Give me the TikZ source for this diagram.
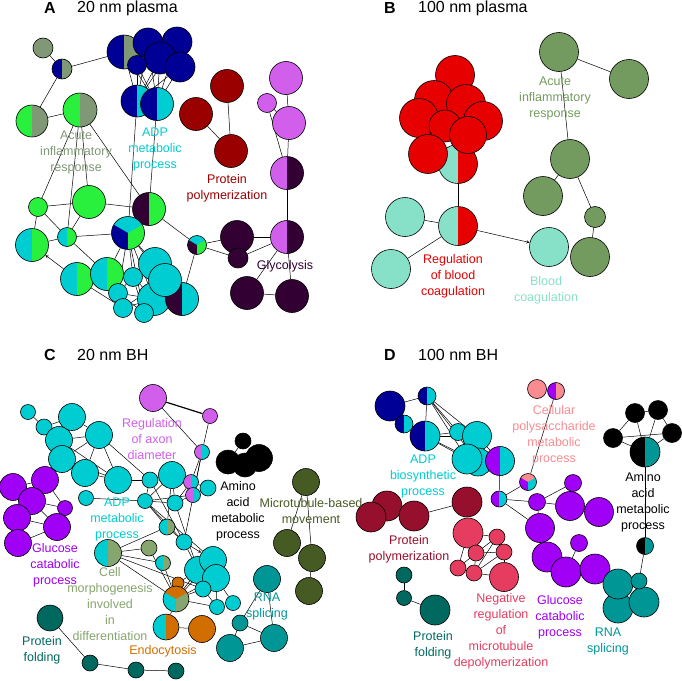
\documentclass[tikz,border=0pt]{standalone}
\usepackage{fontspec}
\setmainfont{Liberation Sans}
\usepackage{xcolor}
\usepackage{tikz}

\definecolor{navyc}{RGB}{0,0,150}
\definecolor{agrey}{RGB}{128,152,118}
\definecolor{lgreen}{RGB}{40,240,60}
\definecolor{cyanc}{RGB}{0,205,210}
\definecolor{dred}{RGB}{155,0,0}
\definecolor{violetc}{RGB}{210,95,235}
\definecolor{dpurple}{RGB}{50,0,50}
\definecolor{bred}{RGB}{230,0,0}
\definecolor{bcyan}{RGB}{135,225,200}
\definecolor{bgreen}{RGB}{115,155,95}
\definecolor{cpurple}{RGB}{160,0,245}
\definecolor{colive}{RGB}{70,90,35}
\definecolor{cteal}{RGB}{0,150,150}
\definecolor{cdteal}{RGB}{0,105,95}
\definecolor{cgrey}{RGB}{135,165,110}
\definecolor{corange}{RGB}{210,110,0}
\definecolor{dpink}{RGB}{250,140,145}
\definecolor{dwine}{RGB}{150,15,45}
\definecolor{dcrimson}{RGB}{230,60,95}

\pgfdeclarelayer{edges}
\pgfsetlayers{edges,main}

\tikzset{
  go/.style={circle, draw=black, line width=0.6pt, inner sep=0pt, minimum size=#1},
  half/.style 2 args={fill=#1, path picture={\fill[#2] (path picture bounding box.south) rectangle (path picture bounding box.north east);}},
  tri/.style n args={3}{fill=#1, path picture={
      \fill[#2] (path picture bounding box.center) -- +(150:45pt) -- +(270:45pt) -- cycle;
      \fill[#3] (path picture bounding box.center) -- +(270:45pt) -- +(30:45pt) -- cycle;}},
  lab/.style={font=\fontsize{12.5}{16}\selectfont, align=center, inner sep=0pt},
  ttl/.style={font=\fontsize{16}{19}\selectfont, anchor=west, inner sep=0pt},
  letter/.style={font=\bfseries\fontsize{16}{19}\selectfont, inner sep=0pt},
  link/.style={line width=0.5pt, >=stealth}
}

\begin{document}
\begin{tikzpicture}[x=1pt, y=-1pt]
    \useasboundingbox (0,0) rectangle (682,680);

    % titles
    \node[letter] (tA) at (50,8) {A};
    \node[ttl] (nA) at (77,8) {20 nm plasma};
    \node[letter] (tB) at (390,8) {B};
    \node[ttl] (nB) at (418,8) {100 nm plasma};
    \node[letter] (tC) at (50,355) {C};
    \node[ttl] (nC) at (77,355) {20 nm BH};
    \node[letter] (tD) at (390,355) {D};
    \node[ttl] (nD) at (418,355) {100 nm BH};

    % panel A
    \node[go=20, fill=agrey] (a1) at (43,48) {};
    \node[go=20, half={navyc}{agrey}] (a2) at (62,69) {};
    \node[go=34, half={navyc}{agrey}] (a3) at (124,52) {};
    \node[go=30, fill=navyc] (a4) at (148,43) {};
    \node[go=30, fill=navyc] (a5) at (177,42) {};
    \node[go=32, fill=navyc] (a6) at (160,58) {};
    \node[go=30, fill=navyc] (a8) at (180,67) {};
    \node[go=19, fill=navyc] (a7) at (137,65) {};
    \node[go=32, half={navyc}{cyanc}] (a9) at (137,101) {};
    \node[go=33, half={navyc}{cyanc}] (a10) at (157,104) {};
    \node[go=32, half={lgreen}{agrey}] (a11) at (32,121) {};
    \node[go=34, half={lgreen}{agrey}] (a12) at (80,110) {};
    \node[go=33, fill=dred] (a13) at (227,86) {};
    \node[go=33, fill=dred] (a14) at (196,114) {};
    \node[go=33, fill=dred] (a15) at (231,151) {};
    \node[go=33, fill=violetc] (a16) at (286,78) {};
    \node[go=19, fill=violetc] (a17) at (267,103) {};
    \node[go=33, fill=violetc] (a18) at (289,123) {};
    \node[go=33, half={violetc}{dpurple}] (a19) at (287,173) {};
    \node[go=33, half={violetc}{dpurple}] (a20) at (287,237) {};
    \node[go=33, fill=dpurple] (a21) at (237,237) {};
    \node[go=20, fill=dpurple] (a22) at (238,258) {};
    \node[go=33, fill=dpurple] (a23) at (247,293) {};
    \node[go=33, fill=dpurple] (a24) at (292,296) {};
    \node[go=19, fill=lgreen] (a25) at (38,207) {};
    \node[go=33, fill=lgreen] (a26) at (89,202) {};
    \node[go=33, half={dpurple}{lgreen}] (a27) at (149,209) {};
    \node[go=33, tri={cyanc}{navyc}{lgreen}] (a28) at (128,233) {};
    \node[go=19, half={cyanc}{lgreen}] (a29) at (67,237) {};
    \node[go=33, half={cyanc}{lgreen}] (a30) at (32,245) {};
    \node[go=19, tri={cyanc}{dpurple}{lgreen}] (a31) at (197,245) {};
    \node[go=33, half={cyanc}{lgreen}] (a32) at (77,279) {};
    \node[go=33, half={cyanc}{lgreen}] (a33) at (107,274) {};
    \node[go=33, fill=cyanc] (a34) at (155,264) {};
    \node[go=33, fill=cyanc] (a40) at (154,299) {};
    \node[go=33, half={dpurple}{cyanc}] (a41) at (182,299) {};
    \node[go=33, fill=cyanc] (a36) at (165,280) {};
    \node[go=19, fill=cyanc] (a35) at (133,277) {};
    \node[go=19, fill=cyanc] (a37) at (118,293) {};
    \node[go=19, fill=cyanc] (a38) at (123,308) {};
    \node[go=19, fill=cyanc] (a39) at (144,313) {};

    % panel B
    \node[go=39, half={bcyan}{bred}] (b9) at (458,164) {};
    \node[go=39, fill=bred] (b1) at (455,75) {};
    \node[go=39, fill=bred] (b2) at (434,100) {};
    \node[go=39, fill=bred] (b3) at (466,104) {};
    \node[go=39, fill=bred] (b6) at (483,121) {};
    \node[go=39, fill=bred] (b4) at (419,118) {};
    \node[go=32, fill=bred] (b5) at (445,126) {};
    \node[go=37, fill=bred] (b7) at (468,135) {};
    \node[go=39, fill=bred] (b8) at (428,154) {};
    \node[go=39, half={bcyan}{bred}] (b10) at (458,226) {};
    \node[go=39, fill=bcyan] (b11) at (405,217) {};
    \node[go=39, fill=bcyan] (b12) at (391,269) {};
    \node[go=39, fill=bcyan] (b13) at (549,247) {};
    \node[go=39, fill=bgreen] (b14) at (559,52) {};
    \node[go=39, fill=bgreen] (b15) at (629,79) {};
    \node[go=39, fill=bgreen] (b16) at (570,159) {};
    \node[go=39, fill=bgreen] (b17) at (543,196) {};
    \node[go=21, fill=bgreen] (b18) at (595,217) {};
    \node[go=39, fill=bgreen] (b19) at (590,257) {};

    % panel C
    \node[go=15, fill=cyanc] (cc1) at (28,412) {};
    \node[go=27, fill=cyanc] (cc2) at (72,417) {};
    \node[go=16, fill=cyanc] (cc3) at (44,427) {};
    \node[go=27, fill=cyanc] (cc4) at (99,435) {};
    \node[go=27, fill=cyanc] (cc5) at (59,440) {};
    \node[go=27, fill=cyanc] (cc6) at (62,459) {};
    \node[go=27, fill=cyanc] (cc7) at (85,473) {};
    \node[go=27, fill=cyanc] (cc8) at (118,480) {};
    \node[go=15, fill=cyanc] (cc9) at (86,498) {};
    \node[go=16, fill=cyanc] (cc10) at (150,480) {};
    \node[go=27, fill=cyanc] (cc11) at (172,475) {};
    \node[go=16, fill=cyanc] (cc12) at (175,503) {};
    \node[go=15, fill=cyanc] (cc13) at (145,501) {};
    \node[go=16, fill=cyanc] (cc14) at (208,488) {};
    \node[go=16, fill=cyanc] (cc15) at (184,542) {};
    \node[go=27, fill=cyanc] (cc16) at (198,570) {};
    \node[go=27, fill=cyanc] (cc17) at (213,560) {};
    \node[go=27, fill=cyanc] (cc18) at (216,578) {};
    \node[go=16, fill=cyanc] (cc19) at (203,589) {};
    \node[go=15, fill=cyanc] (cc20) at (217,607) {};
    \node[go=15, fill=cyanc] (cc21) at (233,603) {};
    \node[go=15, half={violetc}{cyanc}] (cs1) at (202,452) {};
    \node[go=15, half={violetc}{cyanc}] (cs2) at (191,482) {};
    \node[go=15, half={violetc}{cyanc}] (cs3) at (193,495) {};
    \node[go=16, half={cyanc}{cgrey}] (cs4) at (167,527) {};
    \node[go=27, half={cyanc}{cgrey}] (cs5) at (108,553) {};
    \node[go=16, fill=cgrey] (cs6) at (149,548) {};
    \node[go=15, half={cyanc}{cgrey}] (cs7) at (163,563) {};
    \node[go=12, fill=corange] (cs9) at (178,583) {};
    \node[go=26, tri={corange}{cyanc}{cgrey}] (cs8) at (176,599) {};
    \node[go=26, half={cyanc}{corange}] (cs10) at (166,627) {};
    \node[go=27, fill=corange] (co1) at (202,629) {};
    \node[go=27, fill=violetc] (cv1) at (153,398) {};
    \node[go=15, fill=violetc] (cv2) at (210,416) {};
    \node[go=27, fill=cpurple] (cp1) at (13,487) {};
    \node[go=27, fill=cpurple] (cp2) at (45,480) {};
    \node[go=27, fill=cpurple] (cp3) at (32,501) {};
    \node[go=15, fill=cpurple] (cp4) at (65,508) {};
    \node[go=27, fill=cpurple] (cp5) at (17,518) {};
    \node[go=27, fill=cpurple] (cp6) at (57,527) {};
    \node[go=27, fill=cpurple] (cp7) at (18,543) {};
    \node[go=16, fill=black] (ck1) at (243,441) {};
    \node[go=24, fill=black] (ck2) at (228,462) {};
    \node[go=24, fill=black] (ck3) at (245,465) {};
    \node[go=27, fill=black] (ck4) at (259,458) {};
    \node[go=27, fill=colive] (cg1) at (306,482) {};
    \node[go=27, fill=colive] (cg2) at (287,543) {};
    \node[go=27, fill=colive] (cg3) at (312,558) {};
    \node[go=27, fill=colive] (cg4) at (309,591) {};
    \node[go=27, fill=cteal] (ct1) at (267,579) {};
    \node[go=16, fill=cteal] (ct2) at (240,623) {};
    \node[go=27, fill=cteal] (ct3) at (230,648) {};
    \node[go=27, fill=cteal] (ct4) at (274,638) {};
    \node[go=26, fill=cdteal] (cf1) at (50,618) {};
    \node[go=16, fill=cdteal] (cf2) at (90,663) {};
    \node[go=16, fill=cdteal] (cf3) at (136,670) {};
    \node[go=16, fill=cdteal] (cf4) at (176,671) {};

    % panel D
    \node[go=30, fill=navyc] (dn1) at (390,406) {};
    \node[go=18, half={navyc}{cyanc}] (dn2) at (427,396) {};
    \node[go=18, half={navyc}{cyanc}] (dn3) at (404,424) {};
    \node[go=30, half={navyc}{cyanc}] (dn4) at (425,436) {};
    \node[go=17, fill=cyanc] (dc1) at (458,432) {};
    \node[go=29, fill=cyanc] (dc2) at (477,436) {};
    \node[go=28, fill=cyanc] (dc4) at (478,462) {};
    \node[go=30, fill=cyanc] (dc3) at (467,459) {};
    \node[go=29, half={cpurple}{cyanc}] (dh1) at (500,461) {};
    \node[go=16, half={cpurple}{cyanc}] (dh2) at (499,499) {};
    \node[go=19, fill=dpink] (dp1) at (537,389) {};
    \node[go=17, half={cpurple}{dpink}] (dp2) at (556,391) {};
    \node[go=17, tri={dpink}{cpurple}{cyanc}] (dx) at (528,482) {};
    \node[go=17, fill=cpurple] (du1) at (537,502) {};
    \node[go=17, fill=cpurple] (du2) at (573,483) {};
    \node[go=29, fill=cpurple] (du3) at (570,506) {};
    \node[go=29, fill=cpurple] (du4) at (599,512) {};
    \node[go=29, fill=cpurple] (du5) at (540,528) {};
    \node[go=17, fill=cpurple] (du6) at (579,543) {};
    \node[go=30, fill=cpurple] (du7) at (547,557) {};
    \node[go=30, fill=cpurple] (du8) at (566,572) {};
    \node[go=30, fill=cpurple] (du9) at (595,569) {};
    \node[go=19, fill=black] (dk1) at (635,413) {};
    \node[go=19, fill=black] (dk2) at (658,410) {};
    \node[go=19, fill=black] (dk3) at (613,438) {};
    \node[go=19, fill=black] (dk4) at (672,433) {};
    \node[go=30, half={black}{cteal}] (dk5) at (645,452) {};
    \node[go=17, half={black}{cteal}] (dk6) at (645,546) {};
    \node[go=30, fill=cteal] (dt3) at (618,608) {};
    \node[go=30, fill=cteal] (dt4) at (644,602) {};
    \node[go=30, fill=cteal] (dt1) at (618,584) {};
    \node[go=16, fill=cteal] (dt2) at (639,581) {};
    \node[go=30, fill=dwine] (dr1) at (387,506) {};
    \node[go=30, fill=dwine] (dr2) at (371,517) {};
    \node[go=30, fill=dwine] (dr3) at (414,516) {};
    \node[go=30, fill=dwine] (dr4) at (467,502) {};
    \node[go=30, fill=dcrimson] (dm1) at (468,533) {};
    \node[go=16, fill=dcrimson] (dm2) at (497,537) {};
    \node[go=16, fill=dcrimson] (dm3) at (476,553) {};
    \node[go=16, fill=dcrimson] (dm4) at (504,552) {};
    \node[go=16, fill=dcrimson] (dm5) at (458,568) {};
    \node[go=16, fill=dcrimson] (dm6) at (474,573) {};
    \node[go=29, fill=dcrimson] (dm7) at (504,577) {};
    \node[go=16, fill=cdteal] (df1) at (404,575) {};
    \node[go=15, fill=cdteal] (df2) at (404,598) {};
    \node[go=30, fill=cdteal] (df3) at (435,610) {};

    % labels
    \node[lab, text=agrey] (lA1) at (76,152) {Acute\\inflammatory\\response};
    \node[lab, text=cyanc] (lA2) at (155,149) {ADP\\metabolic\\process};
    \node[lab, text=dred] (lA3) at (227,188) {Protein\\polymerization};
    \node[lab, text=dpurple] (lA4) at (285,266) {Glycolysis};
    \node[lab, text=bgreen] (lB1) at (555,98) {Acute\\inflammatory\\response};
    \node[lab, text=bred] (lB2) at (453,276) {Regulation\\of blood\\coagulation};
    \node[lab, text=bcyan] (lB3) at (546,290) {Blood\\coagulation};
    \node[lab, text=violetc] (lC1) at (152,439) {Regulation\\of axon\\diameter};
    \node[lab, text=black] (lC2) at (238,511) {Amino\\acid\\metabolic\\process};
    \node[lab, text=colive] (lC3) at (311,511) {Microtubule-based\\movement};
    \node[lab, text=cyanc] (lC4) at (117,519) {ADP\\metabolic\\process};
    \node[lab, text=cpurple] (lC5) at (55,565) {Glucose\\catabolic\\process};
    \node[lab, text=cgrey] (lC6) at (110,604) {Cell\\morphogenesis\\involved\\in\\differentiation};
    \node[lab, text=corange] (lC7) at (163,651) {Endocytosis};
    \node[lab, text=cteal] (lC8) at (267,606) {RNA\\splicing};
    \node[lab, text=cdteal] (lC9) at (42,650) {Protein\\folding};
    \node[lab, text=dpink] (lD1) at (554,435) {Cellular\\polysaccharide\\metabolic\\process};
    \node[lab, text=cyanc] (lD2) at (423,476) {ADP\\biosynthetic\\process};
    \node[lab, text=black] (lD3) at (643,502) {Amino\\acid\\metabolic\\process};
    \node[lab, text=dwine] (lD4) at (409,549) {Protein\\polymerization};
    \node[lab, text=dcrimson] (lD5) at (501,631) {Negative\\regulation\\of\\microtubule\\depolymerization};
    \node[lab, text=cpurple] (lD6) at (560,617) {Glucose\\catabolic\\process};
    \node[lab, text=cteal] (lD7) at (608,641) {RNA\\splicing};
    \node[lab, text=cdteal] (lD8) at (433,645) {Protein\\folding};

    \begin{pgfonlayer}{edges}
    \path[link]
    % panel A
    (a1) edge (a2) (a2) edge (a3) (a2) edge (a11) (a11) edge (a12)
    (a3) edge (a9) (a3) edge (a10) (a4) edge (a9) (a4) edge (a10)
    (a5) edge (a9) (a5) edge (a10) (a6) edge (a9) (a6) edge (a10)
    (a7) edge (a9) (a7) edge (a10) (a8) edge (a9) (a8) edge (a10)
    (a12) edge (a25) (a12) edge (a29) (a12) edge (a26) (a12) edge (a27)
    (a9) edge (a28) (a10) edge (a27)
    (a25) edge (a26) (a25) edge (a30) (a25) edge (a29) (a26) edge (a29) (a26) edge (a27)
    (a29) edge (a30) (a29) edge (a28) (a29) edge (a33)
    (a32) edge[->] (a30)
    (a27) edge (a28) (a27) edge (a31)
    (a28) edge (a33) (a28) edge (a34) (a28) edge (a35) (a28) edge (a36)
    (a28) edge (a37) (a28) edge (a40) (a28) edge (a39)
    (a32) edge (a33) (a32) edge (a38) (a33) edge (a37)
    (a35) edge (a37) (a35) edge (a39) (a37) edge (a39) (a37) edge (a40)
    (a38) edge (a40) (a38) edge (a36) (a35) edge (a40)
    (a31) edge (a41) (a31) edge (a21) (a31) edge (a22)
    (a21) edge (a22) (a21) edge (a20) (a22) edge (a20) (a20) edge (a19)
    (a20) edge (a24) (a20) edge (a23) (a23) edge (a24)
    (a19) edge (a18) (a18) edge (a16) (a17) edge (a19) (a17) edge (a18)
    (a13) edge (a15) (a14) edge (a15)
    % panel B
    (b14) edge (b15) (b14) edge (b16) (b16) edge (b17) (b16) edge (b18) (b18) edge (b19)
    (b9) edge (b10) (b10) edge (b11) (b10) edge (b12) (b10) edge[->] (b13)
    % panel C
    (cc1) edge (cc3) (cc3) edge (cc2) (cc3) edge (cc5) (cc2) edge (cc5) (cc2) edge (cc4)
    (cc5) edge (cc4) (cc5) edge (cc6) (cc6) edge (cc4) (cc6) edge (cc7) (cc7) edge (cc4)
    (cc6) edge (cc8) (cc5) edge (cc8) (cc4) edge (cc8) (cc4) edge (cc10) (cc7) edge (cc8)
    (cc8) edge (cc10) (cc9) edge (cc13) (cc10) edge (cc11) (cc10) edge (cc13) (cc11) edge (cc13)
    (cc11) edge (cc12) (cc11) edge (cs2) (cc13) edge (cc12) (cc12) edge (cs2) (cc12) edge (cs3)
    (cc13) edge (cs3) (cc14) edge (cs2) (cc14) edge (cs3) (cs1) edge (cs2) (cs1) edge (cs3)
    (cs1) edge (cv2) (cv1) edge[line width=1.2pt] (cv2) (cv1) edge (cs1) (cs1) edge (cc15)
    (cc11) edge (cs4) (cs4) edge (cc13) (cs4) edge (cs5) (cs4) edge (cc15)
    (cc15) edge (cc16) (cc15) edge (cc13) (cc10) edge (cc15) (cc15) edge[->] (cc17)
    (cs5) edge (cs6) (cs5) edge (cs7) (cs5) edge (cs8) (cs5) edge (cc19)
    (cs6) edge (cs8) (cs7) edge (cs8) (cs8) edge (cc16) (cs8) edge (cc17) (cs8) edge (cc18)
    (cs8) edge (cc19) (cs8) edge (cc20) (cs8) edge (cs9) (cs9) edge (cc16)
    (cs8) edge (cs10) (cs10) edge (co1) (cc19) edge (cc20) (cc18) edge (cc21)
    (cc16) edge (cc18) (cc18) edge (cc20) (cc12) edge (cc16) (cc13) edge (cc17)
    (cp1) edge (cp2) (cp1) edge (cp3) (cp2) edge (cp3) (cp3) edge (cp5) (cp3) edge (cp4)
    (cp3) edge (cp6) (cp4) edge (cp6) (cp5) edge (cp6) (cp5) edge (cp7) (cp6) edge (cp7)
    (cp2) edge (cp4)
    (ck1) edge (ck2)
    (cg1) edge (cg2) (cg1) edge (cg3) (cg3) edge (cg4)
    (ct1) edge (ct2) (ct1) edge (ct4) (ct2) edge (ct3) (ct2) edge (ct4) (ct3) edge (ct4)
    (cf1) edge (cf2) (cf2) edge (cf3) (cf3) edge (cf4)
    % panel D
    (dn1) edge (dn3) (dn1) edge (dn2) (dn2) edge (dn4) (dn3) edge (dn4)
    (dn2) edge (dc1) (dn2) edge (dc2) (dn2) edge (dc3) (dn2) edge (dc4)
    (dn4) edge (dc1) (dn4) edge (dc2) (dn4) edge (dc3) (dn4) edge (dc4)
    (dc2) edge (dh1) (dh1) edge (dh2) (dh2) edge (dx) (dh2) edge (du1) (dh2) edge (du5)
    (dx) edge (dp2) (dp1) edge (dp2)
    (du1) edge (du2) (du1) edge (du3) (du3) edge[line width=1.2pt] (du4) (du1) edge (du5)
    (du5) edge (du7) (du7) edge (du8) (du6) edge (du8) (du8) edge (du9) (du9) edge (dt1)
    (dt1) edge (dt2) (dt1) edge (dt3) (dt2) edge (dt4) (dt3) edge (dt4)
    (dt2) edge (dk6) (dk6) edge (dk5)
    (dk1) edge (dk5) (dk2) edge (dk5) (dk3) edge (dk5) (dk4) edge (dk5)
    (dk1) edge (dk2) (dk3) edge (dk4) (dk1) edge (dk3) (dk2) edge (dk4)
    (dr1) edge (dr2) (dr1) edge (dr3) (dr3) edge (dr4)
    (dm1) edge (dm2) (dm1) edge (dm3) (dm1) edge (dm5) (dm2) edge (dm4) (dm2) edge (dm3)
    (dm3) edge (dm4) (dm3) edge (dm5) (dm3) edge (dm6) (dm4) edge (dm6) (dm4) edge (dm7)
    (dm5) edge (dm6) (dm6) edge (dm7) (dm2) edge (dm6)
    (df1) edge (df2) (df2) edge (df3);
    \end{pgfonlayer}
\end{tikzpicture}
\end{document}
